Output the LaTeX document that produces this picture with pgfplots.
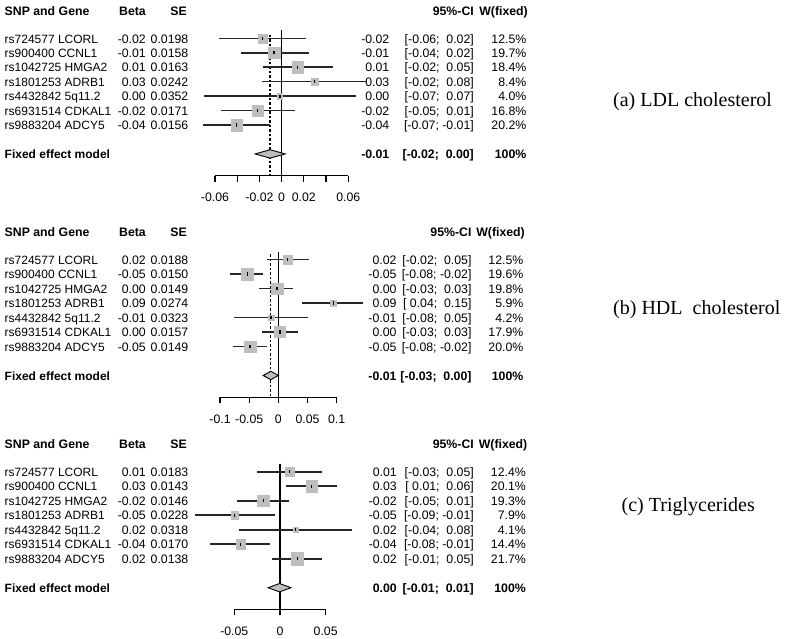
\documentclass[border=0pt]{standalone}
\usepackage{fontspec}
\setmainfont{Liberation Sans}
\newfontfamily\tnr{Liberation Serif}
\usepackage{pgfplots}
\pgfplotsset{compat=1.18}
\usepackage{pgfplotstable}
\definecolor{sqgray}{HTML}{BEBEBE}

% row, beta, lower, upper, weight (%)
\pgfplotstableread{
r b lo hi w
-1 -0.0173 -0.0564 0.0218 12.5
-2 -0.0068 -0.0368 0.0245 19.7
-3 0.0145 -0.0170 0.0462 18.4
-4 0.0296 -0.0175 0.0769 8.4
-5 -0.0014 -0.0700 0.0672 4.0
-6 -0.0215 -0.0546 0.0116 16.8
-7 -0.0404 -0.0706 -0.0108 20.2
}\dataA
\pgfplotstableread{
r b lo hi w
-1 0.0161 -0.0199 0.0520 12.5
-2 -0.0531 -0.0828 -0.0257 19.6
-3 -0.0022 -0.0326 0.0257 19.8
-4 0.0943 0.0411 0.1457 5.9
-5 -0.0125 -0.0759 0.0504 4.2
-6 0.0029 -0.0285 0.0332 17.9
-7 -0.0485 -0.0771 -0.0199 20.0
}\dataB
\pgfplotstableread{
r b lo hi w
-1 0.0102 -0.0252 0.0456 12.4
-2 0.0347 0.0062 0.0627 20.1
-3 -0.0182 -0.0470 0.0096 19.3
-4 -0.0495 -0.0935 -0.0050 7.9
-5 0.0170 -0.0450 0.0790 4.1
-6 -0.0430 -0.0768 -0.0105 14.4
-7 0.0190 -0.0085 0.0456 21.7
}\dataC

\newcommand\txtfont{\fontsize{12.3bp}{14bp}\selectfont}
\newcommand\namefont{\fontsize{12bp}{14bp}\selectfont}
\tikzset{txt/.style={inner sep=0pt, font=\txtfont}}
\newcommand\rowtxt[7]{%
  \pgfmathsetmacro\yb{-(#1)-4.7}%
  \node[txt,anchor=base west] at (4.5bp,\yb bp) {\namefont\curf #2};
  \node[txt,anchor=base east] at (146bp,\yb bp) {\curf #3};
  \node[txt,anchor=base east] at (188.5bp,\yb bp) {\curf #4};
  \node[txt,anchor=base east] at (\xE bp,\yb bp) {\curf #5};
  \node[txt,anchor=base east] at (\xC bp,\yb bp) {\curf #6};
  \node[txt,anchor=base east] at (\xW bp,\yb bp) {\curf #7};
}
\newcommand\headtxt[1]{%
  \pgfmathsetmacro\yb{-(#1)-4.7}%
  \node[txt,anchor=base west] at (4.5bp,\yb bp) {\bfseries SNP and Gene};
  \node[txt,anchor=base east] at (146bp,\yb bp) {\bfseries Beta};
  \node[txt,anchor=base east] at (187bp,\yb bp) {\bfseries SE};
  \node[txt,anchor=base east] at (\xC bp,\yb bp) {\bfseries 95\%-CI};
  \node[txt,anchor=base east] at (\xW bp+1.5bp,\yb bp) {\bfseries W(fixed)};
}

\pgfplotsset{forest/.style={
  scale only axis, clip=false, ymin=-10.5, ymax=-0.5,
  axis y line=none, axis x line*=bottom,
  axis line style={-, line width=1.2bp, black},
  tick align=outside, major tick length=6bp,
  xtick style={black, line width=1.2bp},
  scaled x ticks=false,
  x tick label style={font=\txtfont, yshift=-8.2bp},
}}
\pgfplotsset{
  ci/.style={only marks, mark=none, error bars/.cd, x dir=both, x explicit, error mark=none,
     error bar style={line width=1.6bp, black!85}},
  sq/.style={scatter, only marks, mark=square*, color=sqgray, draw=sqgray, fill=sqgray,
     mark options={draw=sqgray, fill=sqgray},
     scatter/use mapped color={draw=sqgray, fill=sqgray},
     visualization depends on={1.3*sqrt(\thisrow{w}) \as \ms},
     scatter/@pre marker code/.append style={/tikz/mark size=\ms}},
  ctr/.style={only marks, mark=|, mark size=1.6bp, mark options={line width=1.2bp, black}},
  zero/.style={black, line width=1.4bp},
  fixd/.style={black, line width=1.3bp, dash pattern=on 2.5bp off 2bp},
  dia/.style={fill=sqgray, draw=black, line width=0.9bp},
}

\begin{document}
\begin{tikzpicture}
\path[use as bounding box] (0,0) rectangle (787bp,-639bp);

% ---------------- panel (a)
\begin{axis}[forest, at={(215bp,-31.1bp)}, anchor=north west,
  width=133.3bp, height=144.5bp, xmin=-0.06, xmax=0.06,
  xtick={-0.06,-0.04,-0.02,0,0.02,0.04,0.06},
  xticklabels={-0.06,,-0.02,0,0.02,,0.06}]
\addplot[zero] coordinates {(0,-0.45) (0,-10.5)};
\addplot[fixd] coordinates {(-0.0104,-0.75) (-0.0104,-10.5)};
\addplot[ci] table[x=b, y=r, x error plus expr=\thisrow{hi}-\thisrow{b}, x error minus expr=\thisrow{b}-\thisrow{lo}] {\dataA};
\addplot[sq] table[x=b, y=r] {\dataA};
\addplot[ctr] table[x=b, y=r] {\dataA};
\addplot[dia] coordinates {(-0.0239,-9) (-0.0104,-8.71) (0.0032,-9) (-0.0104,-9.29)} -- cycle;
\end{axis}

% ---------------- panel (b)
\begin{axis}[forest, at={(220bp,-252.25bp)}, anchor=north west,
  width=116.7bp, height=145bp, xmin=-0.1, xmax=0.1,
  xtick={-0.1,-0.05,0,0.05,0.1},
  xticklabels={-0.1,-0.05,0,0.05,0.1}]
\addplot[zero] coordinates {(0,-0.45) (0,-10.5)};
\addplot[fixd] coordinates {(-0.013,-0.65) (-0.013,-10.5)};
\addplot[ci] table[x=b, y=r, x error plus expr=\thisrow{hi}-\thisrow{b}, x error minus expr=\thisrow{b}-\thisrow{lo}] {\dataB};
\addplot[sq] table[x=b, y=r] {\dataB};
\addplot[ctr] table[x=b, y=r] {\dataB};
\addplot[dia] coordinates {(-0.026,-9) (-0.013,-8.71) (0.000,-9) (-0.013,-9.29)} -- cycle;
\end{axis}

% ---------------- panel (c)
\begin{axis}[forest, at={(234.3bp,-464.45bp)}, anchor=north west,
  width=91.4bp, height=145bp, xmin=-0.05, xmax=0.05,
  xtick={-0.05,0,0.05},
  xticklabels={-0.05,0,0.05}]
\addplot[zero] coordinates {(0,-0.45) (0,-10.5)};
\addplot[fixd] coordinates {(-0.0005,-0.65) (-0.0005,-10.5)};
\addplot[ci] table[x=b, y=r, x error plus expr=\thisrow{hi}-\thisrow{b}, x error minus expr=\thisrow{b}-\thisrow{lo}] {\dataC};
\addplot[sq] table[x=b, y=r] {\dataC};
\addplot[ctr] table[x=b, y=r] {\dataC};
\addplot[dia] coordinates {(-0.013,-9) (-0.0005,-8.71) (0.012,-9) (-0.0005,-9.29)} -- cycle;
\end{axis}

% ---------------- texts (a)
\def\xE{389.5}\def\xC{474}\def\xW{526.5}
\let\curf\relax
\headtxt{38.3-27.5}
\rowtxt{38.3+0*14.45}{rs724577 LCORL}{-0.02}{0.0198}{-0.02}{[-0.06;\ \ 0.02]}{12.5\%}
\rowtxt{38.3+1*14.45}{rs900400 CCNL1}{-0.01}{0.0158}{-0.01}{[-0.04;\ \ 0.02]}{19.7\%}
\rowtxt{38.3+2*14.45}{rs1042725 HMGA2}{0.01}{0.0163}{0.01}{[-0.02;\ \ 0.05]}{18.4\%}
\rowtxt{38.3+3*14.45}{rs1801253 ADRB1}{0.03}{0.0242}{0.03}{[-0.02;\ \ 0.08]}{8.4\%}
\rowtxt{38.3+4*14.45}{rs4432842 5q11.2}{0.00}{0.0352}{0.00}{[-0.07;\ \ 0.07]}{4.0\%}
\rowtxt{38.3+5*14.45}{rs6931514 CDKAL1}{-0.02}{0.0171}{-0.02}{[-0.05;\ \ 0.01]}{16.8\%}
\rowtxt{38.3+6*14.45}{rs9883204 ADCY5}{-0.04}{0.0156}{-0.04}{[-0.07; -0.01]}{20.2\%}
\let\curf\bfseries
\rowtxt{38.3+8*14.45}{Fixed effect model}{}{}{-0.01}{[-0.02;\ \ 0.00]}{100\%\hspace{2bp}}

% ---------------- texts (b)
\def\xE{396.7}\def\xC{471.7}\def\xW{523.5}
\let\curf\relax
\headtxt{259.5-27.5}
\rowtxt{259.5+0*14.5}{rs724577 LCORL}{0.02}{0.0188}{0.02}{[-0.02;\ \ 0.05]}{12.5\%}
\rowtxt{259.5+1*14.5}{rs900400 CCNL1}{-0.05}{0.0150}{-0.05}{[-0.08; -0.02]}{19.6\%}
\rowtxt{259.5+2*14.5}{rs1042725 HMGA2}{0.00}{0.0149}{0.00}{[-0.03;\ \ 0.03]}{19.8\%}
\rowtxt{259.5+3*14.5}{rs1801253 ADRB1}{0.09}{0.0274}{0.09}{[\ 0.04;\ \ 0.15]}{5.9\%}
\rowtxt{259.5+4*14.5}{rs4432842 5q11.2}{-0.01}{0.0323}{-0.01}{[-0.08;\ \ 0.05]}{4.2\%}
\rowtxt{259.5+5*14.5}{rs6931514 CDKAL1}{0.00}{0.0157}{0.00}{[-0.03;\ \ 0.03]}{17.9\%}
\rowtxt{259.5+6*14.5}{rs9883204 ADCY5}{-0.05}{0.0149}{-0.05}{[-0.08; -0.02]}{20.0\%}
\let\curf\bfseries
\rowtxt{259.5+8*14.5}{Fixed effect model}{}{}{-0.01}{[-0.03;\ \ 0.00]}{100\%\hspace{2bp}}

% ---------------- texts (c)
\def\xE{397}\def\xC{474}\def\xW{526}
\let\curf\relax
\headtxt{471.7-27.5}
\rowtxt{471.7+0*14.5}{rs724577 LCORL}{0.01}{0.0183}{0.01}{[-0.03;\ \ 0.05]}{12.4\%}
\rowtxt{471.7+1*14.5}{rs900400 CCNL1}{0.03}{0.0143}{0.03}{[\ 0.01;\ \ 0.06]}{20.1\%}
\rowtxt{471.7+2*14.5}{rs1042725 HMGA2}{-0.02}{0.0146}{-0.02}{[-0.05;\ \ 0.01]}{19.3\%}
\rowtxt{471.7+3*14.5}{rs1801253 ADRB1}{-0.05}{0.0228}{-0.05}{[-0.09; -0.01]}{7.9\%}
\rowtxt{471.7+4*14.5}{rs4432842 5q11.2}{0.02}{0.0318}{0.02}{[-0.04;\ \ 0.08]}{4.1\%}
\rowtxt{471.7+5*14.5}{rs6931514 CDKAL1}{-0.04}{0.0170}{-0.04}{[-0.08; -0.01]}{14.4\%}
\rowtxt{471.7+6*14.5}{rs9883204 ADCY5}{0.02}{0.0138}{0.02}{[-0.01;\ \ 0.05]}{21.7\%}
\let\curf\bfseries
\rowtxt{471.7+8*14.5}{Fixed effect model}{}{}{0.00}{[-0.01;\ \ 0.01]}{100\%\hspace{2bp}}

% ---------------- panel titles
\node[anchor=west, inner sep=0pt, font=\tnr\fontsize{20bp}{24bp}\selectfont] at (613bp,-101.7bp) {(a) LDL cholesterol};
\node[anchor=west, inner sep=0pt, font=\tnr\fontsize{20bp}{24bp}\selectfont] at (613bp,-310bp) {(b) HDL\ \ cholesterol};
\node[anchor=west, inner sep=0pt, font=\tnr\fontsize{20bp}{24bp}\selectfont] at (621.5bp,-506.7bp) {(c) Triglycerides};
\end{tikzpicture}
\end{document}
